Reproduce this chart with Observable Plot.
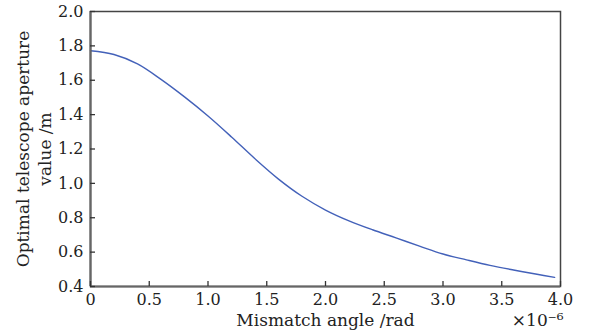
<!DOCTYPE html>
<html>
<head>
<meta charset="utf-8">
<script src="https://cdn.jsdelivr.net/npm/d3@7"></script>
<script src="https://cdn.jsdelivr.net/npm/@observablehq/plot@0.6"></script>
<style>
  html, body { margin: 0; padding: 0; background: #fff; }
</style>
</head>
<body>
<div id="chart"></div>
<script>
const angle = [0, 0.2, 0.4, 0.6, 0.8, 1.0, 1.2, 1.4, 1.6, 1.8, 2.0, 2.2, 2.4, 2.6, 2.8, 3.0, 3.2, 3.4, 3.6, 3.8, 3.95];
const aperture = [1.772, 1.750, 1.695, 1.605, 1.503, 1.392, 1.270, 1.143, 1.025, 0.925, 0.845, 0.782, 0.730, 0.683, 0.635, 0.589, 0.555, 0.523, 0.496, 0.471, 0.453];
const xTicks = [0, 0.5, 1.0, 1.5, 2.0, 2.5, 3.0, 3.5, 4.0];
const xTickLabels = ["0", "0.5", "1.0", "1.5", "2.0", "2.5", "3.0", "3.5", "4.0"];
const yTicks = [0.4, 0.6, 0.8, 1.0, 1.2, 1.4, 1.6, 1.8, 2.0];
const yTickLabels = ["0.4", "0.6", "0.8", "1.0", "1.2", "1.4", "1.6", "1.8", "2.0"];
const xTitle = "Mismatch angle /rad";
const yTitle = "Optimal telescope aperture\nvalue /m";
const xScaleNote = "×10⁻⁶";

const data = angle.map((a, i) => ({angle: a, aperture: aperture[i]}));
const font = "'DejaVu Serif', 'Liberation Serif', serif";

const W = 593, H = 336, mL = 90, mR = 33, mT = 11, mB = 50;
const frameW = W - mL - mR, frameH = H - mT - mB, tickLen = 5;
const xDomain = [0, 4], yDomain = [0.4, 2.0];
// tick length converted from pixels into data units so ticks point inward
const tickDy = (yDomain[1] - yDomain[0]) * tickLen / frameH;
const tickDx = (xDomain[1] - xDomain[0]) * tickLen / frameW;

const chart = Plot.plot({
  width: W,
  height: H,
  marginLeft: mL,
  marginRight: mR,
  marginTop: mT,
  marginBottom: mB,
  style: {fontFamily: font, fontSize: "16px", color: "#222", background: "#fff"},
  x: {domain: xDomain},
  y: {domain: yDomain},
  marks: [
    Plot.line(data, {x: "angle", y: "aperture", stroke: "#4361b9", strokeWidth: 1.4, curve: "catmull-rom"}),
    Plot.frame({stroke: "#444", strokeWidth: 1.5}),
    Plot.ruleX([xDomain[0]], {stroke: "#666", strokeWidth: 2.2}),
    Plot.ruleY([yDomain[0]], {stroke: "#666", strokeWidth: 2.2}),
    Plot.ruleX(xTicks, {x: d => d, y1: yDomain[0], y2: yDomain[0] + tickDy, stroke: "#333", strokeWidth: 1.3}),
    Plot.ruleY(yTicks, {y: d => d, x1: xDomain[0], x2: xDomain[0] + tickDx, stroke: "#333", strokeWidth: 1.3}),
    Plot.axisX({ticks: xTicks, tickFormat: (d, i) => xTickLabels[i], tickSize: 0, tickPadding: 7, fontSize: 16, label: null}),
    Plot.axisY({ticks: yTicks, tickFormat: (d, i) => yTickLabels[i], tickSize: 0, tickPadding: 7, fontSize: 16, label: null}),
    Plot.text([xTitle], {frameAnchor: "bottom", dy: 39, fontSize: 17, fill: "#222"}),
    Plot.text([xScaleNote], {frameAnchor: "bottom-right", dy: 39, dx: 3, textAnchor: "end", fontSize: 17, fill: "#222"}),
    Plot.text([yTitle], {frameAnchor: "left", dx: -58, rotate: -90, textAnchor: "middle", fontSize: 17, lineHeight: 1.3, fill: "#222"})
  ]
});
document.getElementById("chart").appendChild(chart);
</script>
</body>
</html>
